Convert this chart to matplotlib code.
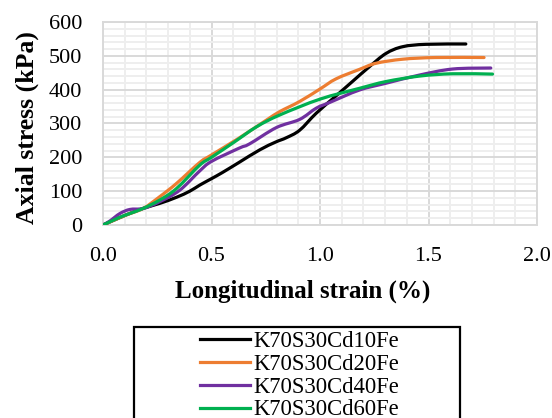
import matplotlib
matplotlib.use("Agg")
import matplotlib.pyplot as plt
from matplotlib.patches import Rectangle, PathPatch
from matplotlib.path import Path
from matplotlib.lines import Line2D
from matplotlib.ticker import FixedLocator

plt.rcParams['font.family'] = ['Liberation Serif', 'DejaVu Serif']

# Data (longitudinal strain %, axial stress kPa)
cd10_x = [0.0, 0.1, 0.185, 0.262, 0.339, 0.4, 0.446, 0.5, 0.55, 0.627, 0.722, 0.795, 0.845, 0.906,
          0.982, 1.071, 1.151, 1.228, 1.304, 1.381, 1.488, 1.672]
cd10_y = [0, 28, 49, 64, 82, 100, 118, 137, 155, 185, 222, 245, 258, 280,
          330, 380, 425, 468, 507, 527, 534, 535]

cd20_x = [0.0, 0.1, 0.185, 0.262, 0.339, 0.446, 0.5, 0.627, 0.753, 0.814, 0.906, 1.0, 1.074,
          1.182, 1.258, 1.381, 1.534, 1.756]
cd20_y = [0, 28, 49, 84, 123, 185, 207, 257, 310, 335, 365, 402, 432,
          460, 478, 490, 495, 495]

cd40_x = [0.0, 0.032, 0.078, 0.124, 0.185, 0.262, 0.354, 0.446, 0.5, 0.627, 0.676, 0.799, 0.906,
          0.982, 1.044, 1.182, 1.304, 1.457, 1.611, 1.787]
cd40_y = [0, 12, 34, 46, 49, 69, 103, 160, 188, 227, 240, 288, 312,
          345, 362, 399, 419, 443, 461, 464]

cd60_x = [0.0, 0.078, 0.124, 0.185, 0.262, 0.339, 0.446, 0.5, 0.6, 0.707, 0.814, 1.0, 1.182,
          1.304, 1.457, 1.611, 1.795]
cd60_y = [0, 23, 34, 49, 74, 108, 177, 200, 243, 290, 325, 372, 404,
          424, 440, 447, 446]

labels = ["K70S30Cd10Fe", "K70S30Cd20Fe", "K70S30Cd40Fe", "K70S30Cd60Fe"]
colors = ["#000000", "#ED7D31", "#7030A0", "#00B050"]

x_ticks = [0.0, 0.5, 1.0, 1.5, 2.0]
y_ticks = [0, 100, 200, 300, 400, 500, 600]


def smooth_path(xs, ys):
    """Catmull-Rom spline through the points, as cubic Bezier segments (like Excel smoothing)."""
    pts = list(zip(xs, ys))
    n = len(pts)
    verts = [pts[0]]
    codes = [Path.MOVETO]
    for i in range(n - 1):
        p0 = pts[i - 1] if i > 0 else pts[i]
        p1 = pts[i]
        p2 = pts[i + 1]
        p3 = pts[i + 2] if i + 2 < n else pts[i + 1]
        c1 = (p1[0] + (p2[0] - p0[0]) / 6.0, p1[1] + (p2[1] - p0[1]) / 6.0)
        c2 = (p2[0] - (p3[0] - p1[0]) / 6.0, p2[1] - (p3[1] - p1[1]) / 6.0)
        verts += [c1, c2, p2]
        codes += [Path.CURVE4] * 3
    return Path(verts, codes)


W, H = 552, 418
fig = plt.figure(figsize=(W / 100, H / 100), dpi=100)
ax = fig.add_axes([103 / W, (H - 225) / H, (537 - 103) / W, (225 - 22) / H])

series = [(cd10_x, cd10_y), (cd20_x, cd20_y), (cd40_x, cd40_y), (cd60_x, cd60_y)]
handles = []
for (xs, ys), lab, col in zip(series, labels, colors):
    patch = PathPatch(smooth_path(xs, ys), fill=False, edgecolor=col, lw=2.3,
                      capstyle='round', joinstyle='round', zorder=3)
    ax.add_patch(patch)
    handles.append(Line2D([], [], color=col, lw=2.3))

ax.set_xlim(0, 2.0)
ax.set_ylim(0, 600)
ax.set_xticks(x_ticks)
ax.set_xticklabels([f"{v:.1f}" for v in x_ticks])
ax.set_yticks(y_ticks)
ax.xaxis.set_minor_locator(FixedLocator([k / 10 for k in range(1, 20) if k % 5 != 0]))
ax.yaxis.set_minor_locator(FixedLocator([k for k in range(20, 600, 20) if k % 100 != 0]))
ax.grid(which='minor', color='#EEEEEE', lw=1.4)
ax.grid(which='major', color='#D9D9D9', lw=1.4)
ax.set_axisbelow(True)
for s in ax.spines.values():
    s.set_color('#D9D9D9')
    s.set_linewidth(1.4)
ax.tick_params(which='both', length=0, labelsize=16)
ax.tick_params(axis='y', pad=15)
ax.tick_params(axis='x', pad=16)

fig.text(303 / W, 1 - 291 / H, "Longitudinal strain (%)", ha='center', va='center',
         fontsize=18, fontweight='bold')
fig.text(27 / W, 1 - 128 / H, "Axial stress (kPa)", ha='center', va='center',
         rotation=90, fontsize=18.5, fontweight='bold')

# legend frame (extends beyond the figure bottom, as in the reference)
fig.patches.append(Rectangle((134 / W, -20 / H), (460 - 134) / W, (20 + (H - 327)) / H,
                             transform=fig.transFigure, fill=False, edgecolor='black',
                             lw=1.6, zorder=5))
fig.legend(handles=handles, labels=labels, loc='upper left',
           bbox_to_anchor=(200 / W, 1 - 331 / H), frameon=False,
           fontsize=16.3, handlelength=2.2, handletextpad=0.15,
           labelspacing=0.08, borderpad=0, borderaxespad=0)

fig.savefig("out.png", dpi=100)
